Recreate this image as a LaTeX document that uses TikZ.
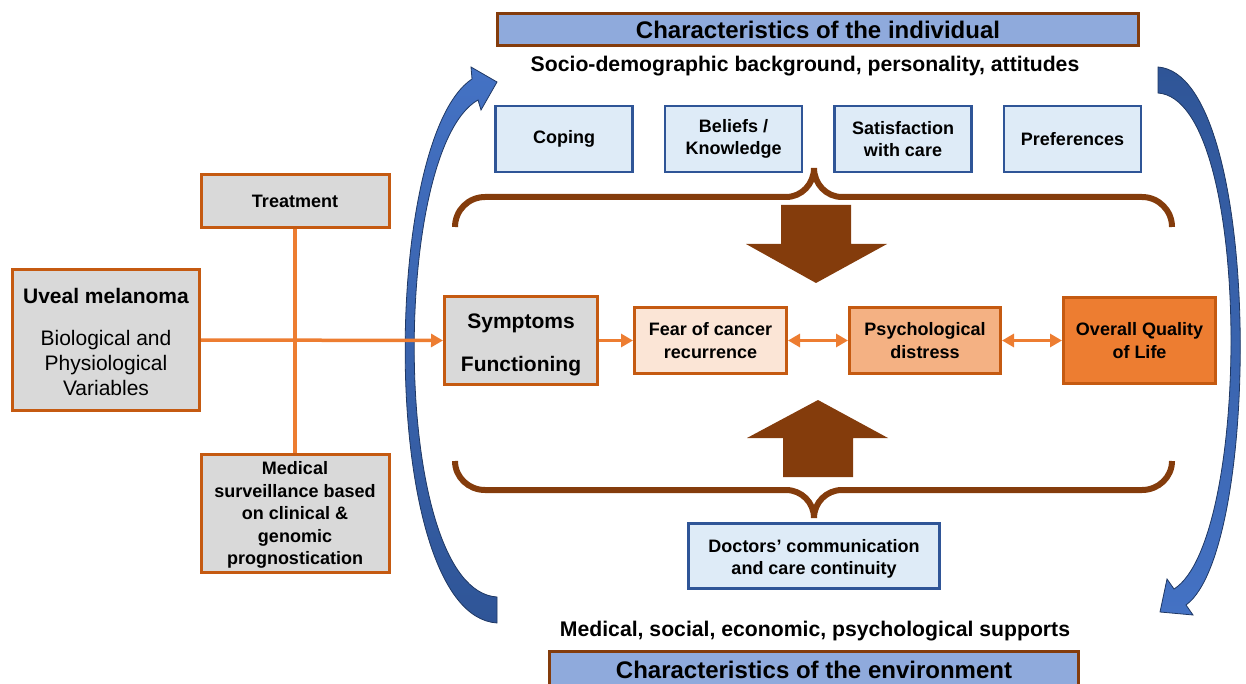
\documentclass[tikz,border=0pt]{standalone}
\usepackage{fontspec}
\setmainfont{Liberation Sans}
\usetikzlibrary{positioning,arrows.meta}

\definecolor{bracebrown}{HTML}{843C0C}
\definecolor{titleblue}{HTML}{8FAADC}
\definecolor{paleblue}{HTML}{DEEBF7}
\definecolor{edgeblue}{HTML}{2F5597}
\definecolor{arrowlight}{HTML}{4472C4}
\definecolor{arrowdark}{HTML}{2F5597}
\definecolor{navyline}{HTML}{1F3864}
\definecolor{greybox}{HTML}{D9D9D9}
\definecolor{rustedge}{HTML}{C55A11}
\definecolor{lineorange}{HTML}{ED7D31}
\definecolor{fearfill}{HTML}{FBE5D6}
\definecolor{distressfill}{HTML}{F4B183}

\tikzset{
  bigtitle/.style={draw=bracebrown, line width=3pt, fill=titleblue, inner sep=0pt,
    font=\bfseries\fontsize{24}{28}\selectfont},
  subline/.style={inner sep=0pt, font=\bfseries\fontsize{21.2}{24}\selectfont},
  indbox/.style={draw=edgeblue, line width=2.5pt, fill=paleblue, align=center,
    minimum width=137pt, minimum height=66pt, inner sep=2pt,
    font=\bfseries\fontsize{18}{22.5}\selectfont},
  medbox/.style={draw=rustedge, line width=3pt, fill=greybox, align=center, inner sep=2pt,
    font=\bfseries\fontsize{18}{22.5}\selectfont},
  qolbox/.style={medbox, minimum width=152pt},
  conn/.style={draw=lineorange, line width=3.5pt},
  tip/.style={-{Triangle[length=12pt,width=13pt]}},
  twotips/.style={{Triangle[length=12pt,width=13pt]}-{Triangle[length=12pt,width=13pt]}},
  brace/.style={draw=bracebrown, line width=6pt},
  fatarrow/.style={fill=bracebrown},
  bluearrow/.style={draw=navyline, line width=0.8pt}
}

\begin{document}
\begin{tikzpicture}[x=1pt,y=-1pt]
\useasboundingbox (0,0) rectangle (1246,684);
\clip (0,0) rectangle (1246,684);

\path[bluearrow, top color=arrowlight, bottom color=arrowdark]
  (497,623) .. controls (378,615) and (380,140) .. (472,79)
  -- (471,67) -- (497,82) -- (481,110) -- (478,100)
  .. controls (390,150) and (390,590) .. (497,597) -- cycle;
\path[bluearrow, top color=arrowdark, bottom color=arrowlight]
  (1158,67) .. controls (1263,75) and (1262,550) .. (1186,605)
  -- (1193,615) -- (1160,612) -- (1167,579) -- (1174,589)
  .. controls (1252,540) and (1253,100) .. (1158,93) -- cycle;

\node[bigtitle, minimum width=641pt, minimum height=32pt] (indiv) at (818,29.5) {Characteristics of the individual};
\node[subline] (socio) at (805,66) {Socio-demographic background, personality, attitudes};

\node[indbox] (coping) at (564,139) {Coping};
\node[indbox, right=30pt of coping] (beliefs) {Beliefs /\\Knowledge};
\node[indbox, right=30pt of beliefs] (satisf) {Satisfaction\\with care};
\node[indbox, right=30pt of satisf] (prefs) {Preferences};

\draw[brace] (455,227) to[out=90,in=180] (485,197) -- (786,197)
  to[out=0,in=-90] (814,168) to[out=-90,in=180] (842,197) -- (1142,197)
  to[out=0,in=90] (1172,227);
\draw[brace] (455,461) to[out=-90,in=180] (485,490) -- (786,490)
  to[out=0,in=90] (814,518) to[out=90,in=180] (842,490) -- (1142,490)
  to[out=0,in=-90] (1172,461);

\fill[fatarrow] (781,205) -- (851,205) -- (851,244) -- (887,244) -- (816,283)
  -- (746,244) -- (781,244) -- cycle;
\fill[fatarrow] (783,477) -- (853,477) -- (853,438) -- (888,438) -- (818,400)
  -- (747,438) -- (783,438) -- cycle;

\node[medbox, minimum width=187pt, minimum height=141pt, font=\fontsize{21}{25}\selectfont] (uveal) at (106,340)
  {\rule{0pt}{19.5pt}{\bfseries Uveal melanoma}\\[17pt]Biological and\\Physiological\\Variables};
\node[medbox, minimum width=188pt, minimum height=53pt] (treat) at (295,201) {Treatment};
\node[medbox, minimum width=188pt, minimum height=118pt] (medsurv) at (295,513.5)
  {\rule{0pt}{16pt}Medical\\surveillance based\\on clinical \&\\genomic\\prognostication};

\node[medbox, minimum width=153pt, minimum height=88pt, font=\bfseries\fontsize{21}{25}\selectfont] (sympt) at (521,340.5)
  {\rule{0pt}{24pt}Symptoms\\[18pt]Functioning};
\node[medbox, fill=fearfill, minimum width=152pt, minimum height=66pt, right=34pt of sympt] (fear) {Fear of cancer\\recurrence};
\node[medbox, fill=distressfill, minimum width=151pt, minimum height=66pt, right=60pt of fear] (distress) {Psychological\\distress};
\node[qolbox, fill=lineorange, minimum height=86pt, right=60pt of distress] (qol) {Overall Quality\\of Life};

\draw[conn] (treat.south) -- (medsurv.north);
\draw[conn, tip] (uveal.east) -- (sympt.west);
\draw[conn, tip] (sympt.east) -- (fear.west);
\draw[conn, twotips] (fear.east) -- (distress.west);
\draw[conn, twotips] (distress.east) -- (qol.west);

\node[indbox, minimum width=251pt, minimum height=65pt] (doctors) at (814,556)
  {\rule{0pt}{19pt}Doctors’ communication\\and care continuity};
\node[subline] (supports) at (815,631) {Medical, social, economic, psychological supports};
\node[bigtitle, minimum width=529pt, minimum height=37pt] (envir) at (814,670) {Characteristics of the environment};
\end{tikzpicture}
\end{document}
